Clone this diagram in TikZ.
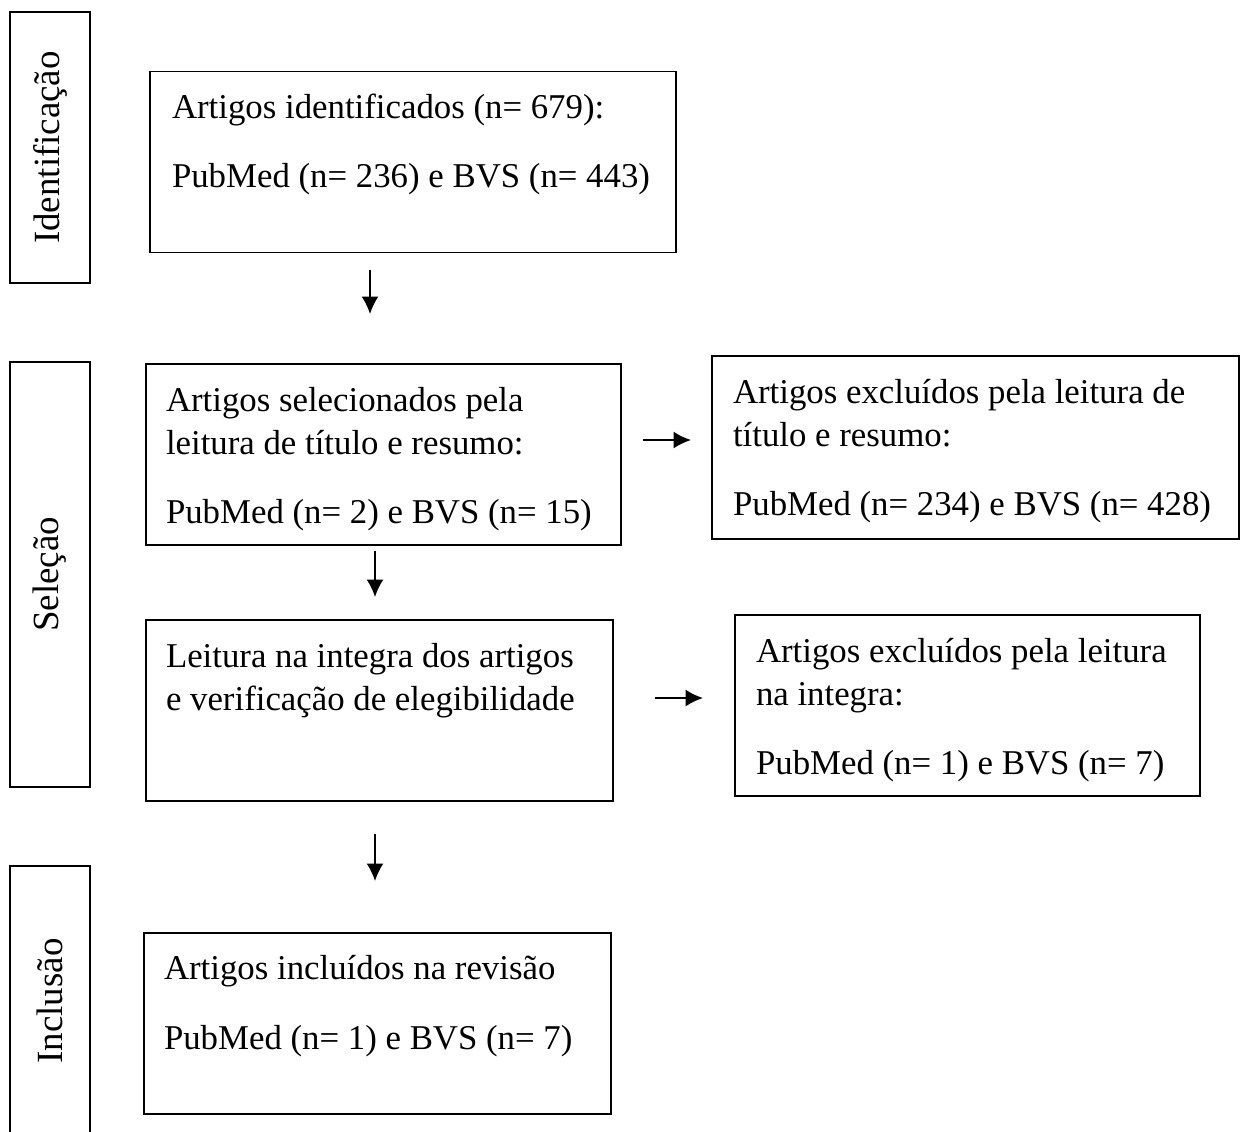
\documentclass[tikz,border=0pt]{standalone}
\usepackage{fontspec}
\setmainfont{Liberation Serif}
\usetikzlibrary{arrows.meta}

\tikzset{
  stage/.style={draw, line width=1.1pt, minimum height=3.62cm},
  stagetext/.style={anchor=north west, align=left, inner sep=0pt,
    font=\fontsize{19.8}{24.4}\selectfont},
  phase/.style={draw, line width=1.1pt, rotate=90, minimum height=1.6cm,
    font=\fontsize{21}{24}\selectfont},
}

\begin{document}
\begin{tikzpicture}[>={Latex[length=0.35cm,width=0.34cm]}, line width=1.1pt]
\useasboundingbox (0,0) rectangle (24.8,-22.62);
% fases
\node[phase, minimum width=5.42cm] (fase1) at (1.0,-2.95) {Identificação};
\node[phase, minimum width=8.50cm] (fase2) at (1.0,-11.49) {Seleção};
\node[phase, minimum width=5.40cm] (fase3) at (1.0,-20.02) {Inclusão};
% caixas
\node[stage, minimum width=10.52cm] (ident) at (8.26,-3.24) {};
\node[stage, minimum width=9.50cm] (sel) at (7.67,-9.09) {};
\node[stage, minimum width=10.54cm, minimum height=3.66cm] (exc1) at (19.51,-8.95) {};
\node[stage, minimum width=9.34cm] (leit) at (7.59,-14.21) {};
\node[stage, minimum width=9.30cm] (exc2) at (19.35,-14.11) {};
\node[stage, minimum width=9.34cm] (incl) at (7.55,-20.47) {};
% textos
\node[stagetext] (identtxt) at ([xshift=0.44cm, yshift=-0.44cm]ident.north west) {Artigos identificados (n= 679):\\[0.54cm]PubMed (n= 236) e BVS (n= 443)};
\node[stagetext] (seltxt) at ([xshift=0.4cm, yshift=-0.46cm]sel.north west) {Artigos selecionados pela\\leitura de título e resumo:\\[0.54cm]PubMed (n= 2) e BVS (n= 15)};
\node[stagetext] (exc1txt) at ([xshift=0.42cm, yshift=-0.46cm]exc1.north west) {Artigos excluídos pela leitura de\\título e resumo:\\[0.54cm]PubMed (n= 234) e BVS (n= 428)};
\node[stagetext] (leittxt) at ([xshift=0.4cm, yshift=-0.46cm]leit.north west) {Leitura na integra dos artigos\\e verificação de elegibilidade};
\node[stagetext] (exc2txt) at ([xshift=0.42cm, yshift=-0.46cm]exc2.north west) {Artigos excluídos pela leitura\\na integra:\\[0.54cm]PubMed (n= 1) e BVS (n= 7)};
\node[stagetext] (incltxt) at ([xshift=0.4cm, yshift=-0.44cm]incl.north west) {Artigos incluídos na revisão\\[0.54cm]PubMed (n= 1) e BVS (n= 7)};
% setas
\coordinate (colA) at (7.4,0);
\coordinate (colB) at (7.5,0);
\coordinate (rowA) at (0,-8.80);
\coordinate (rowB) at (0,-13.96);
\draw[->, shorten <=0.34cm, shorten >=0.98cm] (ident.south -| colA) -- (sel.north -| colA);
\draw[->, shorten <=0.10cm, shorten >=0.44cm] (sel.south -| colB) -- (leit.north -| colB);
\draw[->, shorten <=0.64cm, shorten >=1.02cm] (leit.south -| colB) -- (incl.north -| colB);
\draw[->, shorten <=0.42cm, shorten >=0.40cm] (sel.east |- rowA) -- (exc1.west |- rowA);
\draw[->, shorten <=0.82cm, shorten >=0.62cm] (leit.east |- rowB) -- (exc2.west |- rowB);
\end{tikzpicture}
\end{document}
